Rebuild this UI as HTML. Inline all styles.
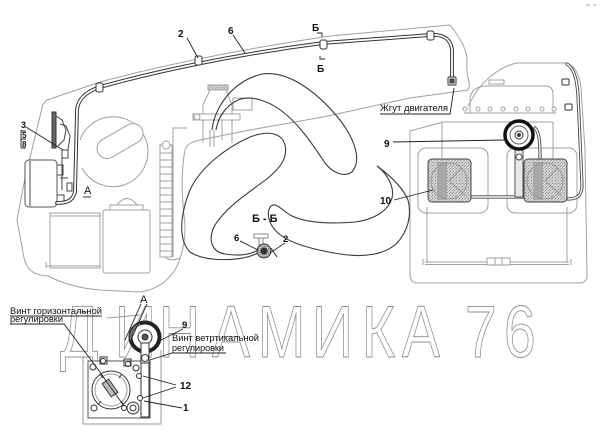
<!DOCTYPE html>
<html><head><meta charset="utf-8"><style>
html,body{margin:0;padding:0;background:#fff;width:600px;height:437px;overflow:hidden}
svg{display:block}
text{font-family:"Liberation Sans","DejaVu Sans",sans-serif}
</style></head><body>
<svg width="600" height="437" viewBox="0 0 600 437" xmlns="http://www.w3.org/2000/svg">
<defs>
<pattern id="st" width="3" height="3" patternUnits="userSpaceOnUse">
<rect width="3" height="3" fill="#d6d6d6"/><rect x="0" y="0" width="1" height="1" fill="#8a8a8a"/><rect x="2" y="1" width="1" height="1" fill="#a5a5a5"/><rect x="1" y="2" width="1" height="1" fill="#b5b5b5"/>
</pattern>
<pattern id="st2" width="2" height="2" patternUnits="userSpaceOnUse">
<rect width="2" height="2" fill="#b8b8b8"/><rect width="1" height="1" fill="#808080"/>
</pattern>
</defs>

<!-- watermark -->
<text transform="scale(0.78,1)" y="357" font-size="73" fill="none" stroke="#8c8c8c" stroke-width="0.9" x="76.9 147.4 203.8 271.8 330.8 400 464.1 515.4 576.9 596.2 646.2">ДИНАМИКА 76</text>

<!-- ========== BODY OUTLINES (gray) ========== -->
<g fill="none" stroke="#a0a0a0" stroke-width="1">
 <path d="M47,100 L100,82 C170,63 250,48 330,36 L450,25"/>
 <path d="M450,25 C458,35 468,50 467,62 C465,75 472,84 468,90"/>
 <path d="M47,100 L43,104 L25,178 L17,220 L24,258 C27,270 33,275 48,276 C60,282 75,288 100,290 L140,292 C155,290 167,282 175,270 C183,255 187,235 184,215 C181,190 182,165 185,150 C187,144 191,142 200,140 L250,130 L323,117 L410,98 L468,90"/>

 <!-- big gray circle + keyhole -->
 <path d="M80,140 A35,35 0 1 1 82,168"/>
 <rect x="-25" y="-10" width="50" height="20" rx="10" transform="translate(120,141) rotate(-30)" fill="#fff"/>

 <!-- bottom boxes -->
 <rect x="50" y="213" width="50" height="55"/>
 <line x1="50" y1="216" x2="100" y2="216"/>
 <line x1="46" y1="266" x2="100" y2="266"/>
 <line x1="46" y1="262" x2="46" y2="268"/>
 <rect x="103" y="210" width="47" height="63" rx="2"/>
 <rect x="110" y="205" width="33" height="5"/>
 <path d="M117,205 Q127,192 137,205"/>

 <!-- ladder / radiator -->
 <rect x="160" y="145" width="12" height="112"/>
 <circle cx="166" cy="145" r="4" fill="#fff"/>
 <path d="M160,153h12M160,160h12M160,167h12M160,174h12M160,181h12M160,188h12M160,195h12M160,202h12M160,209h12M160,216h12M160,223h12M160,230h12M160,237h12M160,244h12M160,251h12"/>
 <path d="M173,257 L173,128 L187,128"/>
 <path d="M165,257 Q170,262 180,258"/>

 <!-- filler tube -->
 <rect x="208" y="85" width="20" height="5" fill="url(#st)"/>
 <path d="M203,143 L203,105 L210,90 L226,90 L232,105 L232,143"/>
 <rect x="193" y="114" width="47" height="6" fill="#fff"/>
 <rect x="233" y="98" width="19" height="12"/>
 <path d="M210,130 L210,147 M214,130 L214,147 M222,120 L222,140"/>
 <circle cx="197" cy="117" r="3"/>

 <!-- right panel -->
 <path d="M468,106 L476,92 C487,77 502,66 517,63 L565,63 C574,65 579,72 581,88 L585,150 L587,275 Q587,283 579,283 L418,283 Q410,283 410,275 L410,131 L443,122 L553,122"/>
 <path d="M470,113 L470,98 Q472,87 485,86 L545,86 Q553,86 553,94 L553,113"/>
 <rect x="489" y="80" width="15" height="4"/>
 <line x1="464" y1="113" x2="556" y2="113"/>
 <path d="M442,122 L442,158 M553,122 L553,158"/>
 <rect x="418" y="148" width="70" height="65" rx="8"/>
 <rect x="507" y="148" width="70" height="65" rx="8"/>
 <path d="M427,207 L427,263 M567,207 L567,263 M425,262 L569,262 M425,264.5 L569,264.5 M423,259 L423,265 M571,259 L571,265"/>
 <rect x="487" y="258" width="23" height="7" fill="#fff"/>
 <path d="M495,258 L495,265 M502,258 L502,265"/>
 <!-- bolts -->
 <g fill="#fff">
  <circle cx="465" cy="109" r="2"/><circle cx="478" cy="109" r="2"/><circle cx="490" cy="109" r="2"/><circle cx="503" cy="109" r="2"/>
  <circle cx="516" cy="109" r="2"/><circle cx="528" cy="109" r="2"/><circle cx="542" cy="109" r="2"/><circle cx="554" cy="109" r="2"/>
 </g>
</g>

<!-- ========== LEFT MECHANISM ========== -->
<g fill="none" stroke="#444" stroke-width="1">
 <rect x="52" y="112" width="4" height="36" fill="#666" stroke="#333"/>
 <path d="M56,116 L62,120 L66,130 L64,140 L58,146"/>
 <path d="M60,124 L66,126 L70,136 L68,150"/>
 <rect x="25" y="160" width="32" height="47" rx="4" fill="#fff" stroke="#555"/>
 <line x1="30" y1="161" x2="30" y2="206"/>
 <path d="M57,165 L63,165 L63,175 L57,175"/>
 <path d="M57,195 L64,195 L64,204 L57,204"/>
 <rect x="62" y="150" width="6" height="8" fill="#fff"/>
 <rect x="67" y="183" width="5" height="8" fill="#fff"/>
 <path d="M60,178 L68,178 M62,158 L62,190"/>
</g>

<!-- ========== TOP WIRE (double line) ========== -->
<g fill="none" stroke-linecap="round">
 <path id="w1" d="M57,203 C68,203 73,200 75,192 L77,110 C78,98 88,91 100,87 C150,73 230,55 323,43 L430,35 C445,34 451,40 452,50 L452,78" stroke="#333" stroke-width="3.8"/>
 <path d="M57,203 C68,203 73,200 75,192 L77,110 C78,98 88,91 100,87 C150,73 230,55 323,43 L430,35 C445,34 451,40 452,50 L452,78" stroke="#fff" stroke-width="1.8"/>
 <!-- right side wire -->
 <path d="M567,64 C574,68 577,80 578,95 L582,185 C582,195 578,199 568,199" stroke="#444" stroke-width="3.2"/>
 <path d="M567,64 C574,68 577,80 578,95 L582,185 C582,195 578,199 568,199" stroke="#fff" stroke-width="1.4"/>
 <path d="M471,197 L524,197" stroke="#444" stroke-width="3.2"/>
 <path d="M471,197 L524,197" stroke="#fff" stroke-width="1.4"/>
 <path d="M535,128 C539,132 540,140 540,158" stroke="#444" stroke-width="3.2"/>
 <path d="M535,128 C539,132 540,140 540,158" stroke="#fff" stroke-width="1.4"/>
</g>
<!-- clips -->
<g fill="#fff" stroke="#333" stroke-width="1">
 <rect x="96" y="83" width="7" height="9" rx="2"/>
 <rect x="195" y="56" width="7" height="9" rx="2"/>
 <rect x="320" y="40" width="7" height="9" rx="2"/>
 <rect x="427" y="31" width="7" height="9" rx="2"/>
 <rect x="448" y="77" width="8" height="8" rx="1"/>
 <rect x="450" y="79" width="4" height="4" fill="#555"/>
 <rect x="562" y="79" width="7" height="6" rx="1"/>
 <rect x="565" y="104" width="7" height="6" rx="1"/>
</g>

<!-- ========== CENTRAL LOBES ========== -->
<g fill="none" stroke="#3a3a3a" stroke-width="1.1">
 <path d="M212,130 C214,110 230,82 262,74 C290,70 320,95 340,120 C355,140 362,160 352,172 C343,178 332,172 325,163 C315,148 300,125 283,112 C268,100 250,95 238,100 C225,106 218,118 216,130"/>
 <path d="M258,253 C240,262 205,262 190,252 C178,240 180,215 190,190 C200,168 225,148 250,137 C268,130 282,133 285,145 C288,158 280,168 268,178 C250,192 228,205 215,225 C207,240 212,252 225,254 C238,256 250,255 258,250"/>
 <path d="M377,166 C388,174 402,186 408,200 C412,215 408,232 396,244 C385,254 365,258 340,254 C315,250 290,244 278,233 C268,224 266,212 271,206 C276,202 282,210 290,215 C305,223 330,224 355,222 C372,220 388,212 392,198 C395,185 385,172 377,166"/>
 <!-- hood line through -->
</g>

<!-- Б-Б connector -->
<g stroke="#333" stroke-width="1">
 <rect x="254" y="234" width="14" height="4" fill="#fff" stroke="#888"/>
 <rect x="259" y="238" width="4" height="7" fill="#fff" stroke="#888"/>
 <circle cx="264" cy="251" r="7" fill="url(#st2)"/>
 <circle cx="264" cy="251" r="3" fill="#333"/>
 <line x1="240" y1="241" x2="258" y2="250" fill="none"/>
 <line x1="285" y1="243" x2="270" y2="253" fill="none"/>
 <line x1="271" y1="248" x2="277" y2="257" fill="none"/>
</g>

<!-- ========== HORNS RIGHT ========== -->
<g stroke="#444" stroke-width="1">
 <rect x="428" y="159" width="43" height="43" rx="4" fill="url(#st)"/>
 <rect x="524" y="159" width="43" height="43" rx="4" fill="url(#st)"/>
 <rect x="437" y="162" width="10" height="38" fill="#a8a8a8" stroke="none"/>
 <rect x="533" y="162" width="10" height="38" fill="#a8a8a8" stroke="none"/>
 <circle cx="449" cy="181" r="18" fill="none" stroke="#999"/>
 <circle cx="545" cy="181" r="18" fill="none" stroke="#999"/>
 <path d="M449,181 L465,195 M449,181 L462,168 M545,181 L561,195 M545,181 L558,168" stroke="#999" fill="none"/>
 <rect x="515" y="150" width="8" height="47" fill="#e8e8e8" stroke="#555"/>
 <circle cx="519" cy="157" r="3" fill="#fff"/>
 <circle cx="519" cy="135" r="14" fill="#fff" stroke="#111" stroke-width="3.5"/>
 <circle cx="519" cy="135" r="9" fill="#fff" stroke="#666"/>
 <circle cx="519" cy="135" r="4" fill="#fff" stroke="#333"/>
 <circle cx="519" cy="135" r="1.5" fill="#333"/>
</g>

<!-- ========== DETAIL A ========== -->
<g fill="none" stroke="#999" stroke-width="1">
 <path d="M83,356 L83,424 L161,424 L161,350"/>
 <path d="M107,318 L140,315"/>
</g>
<g stroke="#333" stroke-width="1">
 <rect x="88" y="361" width="62" height="57" fill="#fff" stroke="#555"/>
 <circle cx="111" cy="390" r="19" fill="#fff" stroke="#333"/>
 <circle cx="111" cy="390" r="16" fill="none" stroke="#999"/>
 <path d="M100,374 L103,378 M122,374 L119,378 M98,405 L101,401 M124,405 L121,401" fill="none"/>
 <rect x="-4" y="-8" width="8" height="16" fill="#bbb" transform="translate(110,388) rotate(-35)"/>
 <line x1="97" y1="368" x2="124" y2="406"/>
 <rect x="141" y="335" width="8" height="82" fill="#fff"/>
 <circle cx="145" cy="337" r="14.5" fill="#fff" stroke="#222" stroke-width="4"/>
 <path d="M131,340 A14,14 0 0 1 140,324" stroke="#777" stroke-width="2" fill="none"/>
 <circle cx="145" cy="337" r="7" fill="#fff"/>
 <circle cx="145" cy="337" r="3" fill="#555"/>
 <rect x="141" y="343" width="8" height="20" fill="#fff"/>
 <circle cx="145" cy="358" r="3.5" fill="#fff"/>
 <g fill="#fff">
  <circle cx="93" cy="367" r="3"/><circle cx="103" cy="361" r="2.5"/><circle cx="128" cy="364" r="2.5"/>
  <circle cx="136" cy="368" r="3"/><circle cx="139" cy="376" r="2.5"/><circle cx="140" cy="398" r="2.5"/>
  <circle cx="94" cy="408" r="3"/><circle cx="124" cy="408" r="2.5"/>
  <circle cx="133" cy="408" r="6"/>
 </g>
 <circle cx="133" cy="408" r="3" fill="#fff"/>
 <rect x="100" y="357" width="7" height="7" fill="none"/>
 <rect x="124" y="359" width="7" height="7" fill="none"/>
</g>

<!-- ========== LEADERS ========== -->
<g stroke="#222" stroke-width="0.9" fill="none">
 <line x1="187" y1="38" x2="198" y2="58"/>
 <line x1="233" y1="35" x2="245" y2="53"/>
 <path d="M317,33 L322,33 L322,37"/>
 <path d="M320,56 L320,59 L325,59"/>
 <path d="M380,114 L450,114 L454,88"/>
 <line x1="393" y1="142" x2="504" y2="140"/>
 <line x1="394" y1="200" x2="433" y2="190"/>
 <line x1="26" y1="127" x2="63" y2="150"/>
 <path d="M21,130 L21,148 M21,131 L26,131 M21,139 L26,139 M21,148 L26,148"/>
 <line x1="83" y1="197" x2="91" y2="197"/>
 <!-- detail A -->
 <line x1="141" y1="304" x2="125" y2="340"/>
 <line x1="147" y1="304" x2="130" y2="342"/>
 <path d="M10,316 L102,316"/>
 <path d="M10,324 L64,324 L97,368"/>
 <line x1="183" y1="329" x2="157" y2="342"/>
 <path d="M226,353 L172,353 L150,360"/>
 <line x1="176" y1="385" x2="143" y2="376"/>
 <line x1="176" y1="387" x2="143" y2="398"/>
 <line x1="182" y1="408" x2="144" y2="401"/>
</g>

<!-- ========== LABELS ========== -->
<g fill="#111" font-weight="bold" font-size="10">
 <text x="178" y="37">2</text>
 <text x="228" y="34">6</text>
 <text x="312" y="31" font-size="10">Б</text>
 <text x="317" y="72" font-size="10">Б</text>
 <text x="380" y="111" font-size="9.5" font-weight="normal" textLength="68" lengthAdjust="spacingAndGlyphs">Жгут двигателя</text>
 <text x="384" y="147">9</text>
 <text x="380" y="204">10</text>
 <text x="252" y="222" font-size="11">Б - Б</text>
 <text x="234" y="241" font-size="9.5">6</text>
 <text x="283" y="242" font-size="9.5">2</text>
 <text x="21" y="128" font-size="9">3</text>
 <text x="22" y="138" font-size="8">5</text>
 <text x="22" y="147" font-size="8">8</text>
 <text x="84" y="194" font-size="11" font-weight="normal">A</text>
 <text x="140" y="303" font-size="11" font-weight="normal">A</text>
 <text x="10" y="314" font-size="9.5" font-weight="normal" textLength="92" lengthAdjust="spacingAndGlyphs">Винт горизонтальной</text>
 <text x="10" y="322" font-size="9.5" font-weight="normal" textLength="53" lengthAdjust="spacingAndGlyphs">регулировки</text>
 <text x="182" y="328" font-size="9.5">9</text>
 <text x="172" y="341" font-size="9.5" font-weight="normal" textLength="87" lengthAdjust="spacingAndGlyphs">Винт ветртикальной</text>
 <text x="172" y="351" font-size="9.5" font-weight="normal" textLength="52" lengthAdjust="spacingAndGlyphs">регулировки</text>
 <text x="180" y="389" font-size="10">12</text>
 <text x="183" y="411" font-size="10">1</text>
</g>
<path d="M586,5 L590,5 M593,5 L596,5" stroke="#aaa" stroke-width="1"/>
</svg>
</body></html>
